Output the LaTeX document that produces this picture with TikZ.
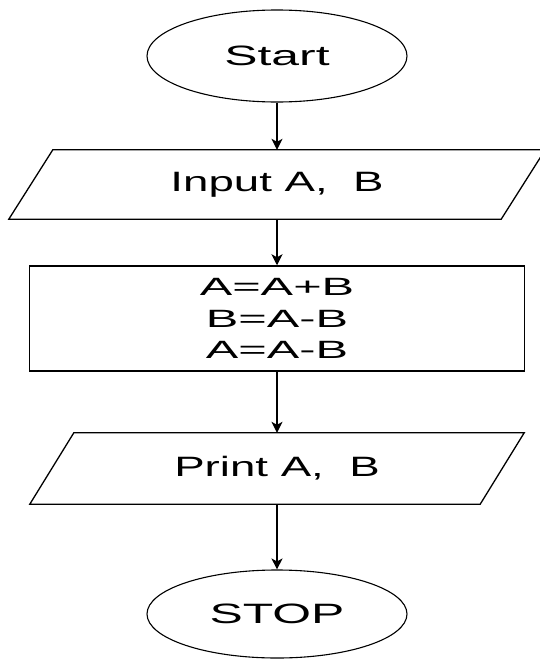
\documentclass[tikz,border=0pt]{standalone}
\usepackage{fontspec}
\usetikzlibrary{shapes.geometric,arrows.meta}
\newfontfamily\termfont[FakeStretch=1.78]{Liberation Sans}
\newfontfamily\iofont[FakeStretch=1.63]{Liberation Sans}
\newfontfamily\procfont[FakeStretch=1.95]{Liberation Sans}
\begin{document}
\begin{tikzpicture}[x=1pt,y=-1pt,
  term/.style={ellipse,draw,line width=1.1pt,minimum width=260pt,inner sep=0pt,
    font=\termfont\fontsize{28}{32}\selectfont},
  iobox/.style={rectangle,draw=none,inner sep=0pt,
    font=\iofont\fontsize{28}{32}\selectfont},
  procbox/.style={rectangle,draw,line width=1.5pt,inner sep=0pt,align=center,
    font=\procfont\fontsize{25}{31.5}\selectfont},
  para/.style={line width=1.3pt,line join=miter},
  arr/.style={line width=1.3pt,-{Stealth[length=11pt,width=11pt,inset=3pt]}}]
\useasboundingbox (0,0) rectangle (540,659);
\node[term,minimum height=92pt] (start) at (277,56) {Start};
\node[iobox,minimum width=492pt,minimum height=69pt] (in) at (277,184.5) {Input A,\ \ B};
\draw[para] ([xshift=22pt]in.north west) -- ([xshift=22pt]in.north east)
  -- ([xshift=-22pt]in.south east) -- ([xshift=-22pt]in.south west) -- cycle;
\node[procbox,minimum width=495pt,minimum height=105pt] (proc) at (277,318.5)
  {A=A+B\\B=A-B\\A=A-B};
\node[iobox,minimum width=450pt,minimum height=71pt] (out) at (277,468.5) {Print A,\ \ B};
\draw[para] ([xshift=22pt]out.north west) -- ([xshift=22pt]out.north east)
  -- ([xshift=-22pt]out.south east) -- ([xshift=-22pt]out.south west) -- cycle;
\node[term,minimum height=88pt] (stop) at (277,614) {STOP};
\draw[arr] (start.south) -- (in.north);
\draw[arr] (in.south) -- (proc.north);
\draw[arr] (proc.south) -- (out.north);
\draw[arr] (out.south) -- (stop.north);
\end{tikzpicture}
\end{document}
